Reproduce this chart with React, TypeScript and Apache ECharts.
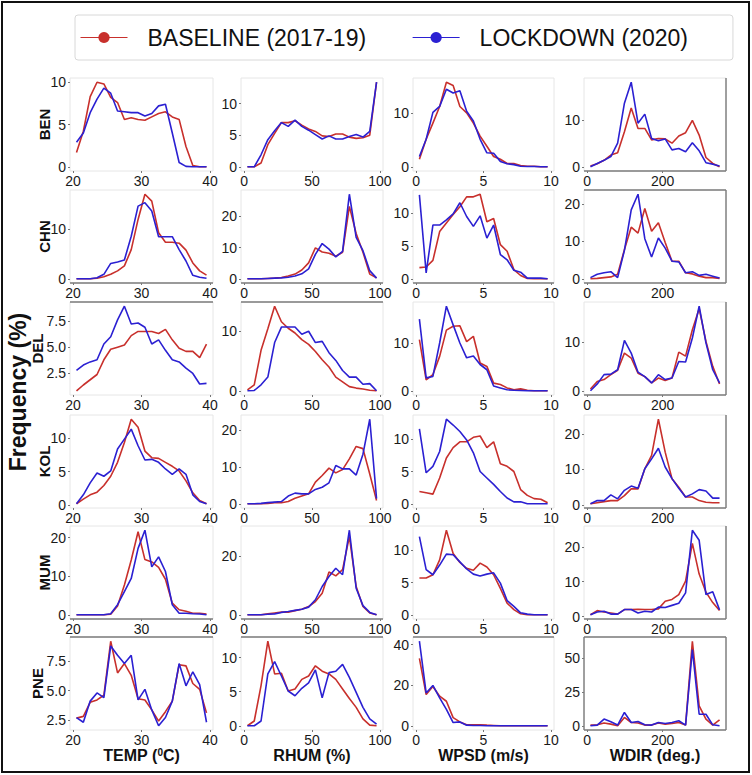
import React, { useEffect, useRef } from "react";
import * as echarts from "echarts";

// ---------- categories / names ----------
const CITIES = ["BEN", "CHN", "DEL", "KOL", "MUM", "PNE"];
const VARIABLE_NAMES = ["TEMP ({sup|0}C)", "RHUM (%)", "WPSD (m/s)", "WDIR (deg.)"];
const BASE_NAME = "BASELINE (2017-19)";
const LOCK_NAME = "LOCKDOWN (2020)";

// ---------- bin centres (x values) ----------
const TEMP_BINS = [20.5, 21.5, 22.5, 23.5, 24.5, 25.5, 26.5, 27.5, 28.5, 29.5, 30.5, 31.5, 32.5, 33.5, 34.5, 35.5, 36.5, 37.5, 38.5, 39.5];
const RHUM_BINS = [2.5, 7.5, 12.5, 17.5, 22.5, 27.5, 32.5, 37.5, 42.5, 47.5, 52.5, 57.5, 62.5, 67.5, 72.5, 77.5, 82.5, 87.5, 92.5, 97.5];
const WPSD_BINS = [0.25, 0.75, 1.25, 1.75, 2.25, 2.75, 3.25, 3.75, 4.25, 4.75, 5.25, 5.75, 6.25, 6.75, 7.25, 7.75, 8.25, 8.75, 9.25, 9.75];
const WDIR_BINS = [9, 27, 45, 63, 81, 99, 117, 135, 153, 171, 189, 207, 225, 243, 261, 279, 297, 315, 333, 351];

// ---------- tick labels ----------
const X_TICKS = [[20, 30, 40], [0, 50, 100], [0, 5, 10], [0, 200]];
const BEN_TICKS = [[0, 5, 10], [0, 5, 10], [0, 10], [0, 10]];
const CHN_TICKS = [[0, 10], [0, 10, 20], [0, 5, 10], [0, 10, 20]];
const DEL_TICKS = [[2.5, 5, 7.5], [0, 10], [0, 10], [0, 10]];
const KOL_TICKS = [[0, 5, 10], [0, 10, 20], [0, 5, 10], [0, 10, 20]];
const MUM_TICKS = [[0, 10, 20], [0, 20], [0, 5, 10], [0, 10, 20]];
const PNE_TICKS = [[2.5, 5, 7.5], [0, 5, 10], [0, 20, 40], [0, 25, 50]];

// ---------- frequencies (%) ----------
const BEN_TEMP_BASE = [1.7, 4.2, 8.3, 10.0, 9.8, 8.2, 7.6, 5.6, 5.8, 5.6, 5.5, 5.9, 6.3, 6.5, 5.9, 5.6, 2.4, 0.15, 0, 0];
const BEN_TEMP_LOCK = [2.9, 4.0, 6.4, 8.0, 9.3, 8.7, 6.6, 6.5, 6.4, 6.4, 6.0, 6.3, 7.2, 7.4, 4.0, 0.5, 0.05, 0, 0, 0];
const BEN_RHUM_BASE = [0, 0, 0.6, 3.5, 5.3, 7.0, 7.0, 7.3, 6.6, 6.0, 5.6, 4.9, 4.8, 5.2, 5.2, 4.7, 4.5, 4.6, 5.0, 13.4];
const BEN_RHUM_LOCK = [0, 0, 1.9, 4.3, 5.7, 7.0, 6.4, 7.4, 6.4, 5.8, 5.1, 4.4, 4.9, 4.4, 4.4, 4.8, 5.1, 4.7, 5.6, 13.4];
const BEN_WPSD_BASE = [1.4, 5.1, 8.1, 11.2, 15.7, 15.1, 11.2, 10.0, 8.1, 5.7, 3.8, 1.9, 1.4, 0.6, 0.6, 0.25, 0.1, 0.1, 0, 0];
const BEN_WPSD_LOCK = [1.9, 5.1, 10.1, 11.2, 14.4, 13.7, 14.1, 10.3, 8.5, 5.1, 2.6, 2.5, 1.0, 0.55, 0.4, 0.1, 0.05, 0.05, 0, 0];
const BEN_WDIR_BASE = [0.3, 0.8, 1.5, 2.6, 3.1, 7.5, 12.5, 8.2, 8.2, 5.8, 6.1, 6.0, 5.1, 6.6, 7.3, 9.9, 6.8, 2.1, 0.85, 0.15];
const BEN_WDIR_LOCK = [0.15, 0.85, 1.5, 2.3, 5.1, 13.5, 17.9, 9.3, 11.2, 6.1, 5.6, 6.0, 3.7, 4.0, 3.3, 5.2, 3.5, 1.0, 0.7, 0.3];

const CHN_TEMP_BASE = [0, 0, 0, 0.1, 0.4, 0.9, 1.6, 2.6, 5.9, 12.0, 17.1, 15.7, 9.3, 7.4, 7.4, 7.2, 5.8, 3.2, 1.6, 0.75];
const CHN_TEMP_LOCK = [0, 0, 0, 0.2, 0.9, 3.1, 3.4, 3.8, 8.6, 14.7, 15.4, 13.7, 8.5, 8.5, 8.5, 5.9, 3.6, 0.7, 0.3, 0.1];
const CHN_RHUM_BASE = [0, 0, 0, 0.1, 0.2, 0.4, 0.9, 1.5, 2.8, 5.1, 9.9, 8.6, 8.2, 7.2, 8.5, 23.2, 14.5, 8.5, 1.5, 0.3];
const CHN_RHUM_LOCK = [0, 0, 0, 0.1, 0.2, 0.3, 0.5, 0.9, 1.6, 3.2, 7.8, 11.3, 9.5, 7.0, 8.8, 27.1, 13.3, 9.0, 2.6, 0.2];
const CHN_WPSD_BASE = [1.7, 1.8, 2.8, 7.2, 8.5, 9.8, 11.0, 12.5, 12.5, 12.9, 8.7, 9.2, 5.2, 4.2, 1.4, 0.5, 0.05, 0, 0, 0];
const CHN_WPSD_LOCK = [12.8, 0.9, 8.2, 8.2, 9.0, 9.9, 11.6, 9.5, 8.0, 9.6, 6.2, 8.2, 3.7, 2.9, 1.3, 1.0, 0.1, 0.1, 0.1, 0];
const CHN_WDIR_BASE = [0, 0.1, 0.3, 0.5, 1.2, 7.8, 13.8, 12.2, 18.8, 12.7, 15.0, 9.7, 4.7, 4.7, 1.6, 1.3, 0.7, 0.3, 0.3, 0.1];
const CHN_WDIR_LOCK = [0.3, 1.2, 1.6, 1.9, 0.3, 7.6, 18.4, 22.6, 10.7, 5.8, 10.9, 8.2, 4.7, 4.5, 1.6, 1.9, 0.9, 1.2, 0.7, 0.2];

const DEL_TEMP_BASE = [0.85, 1.4, 1.9, 2.4, 3.8, 4.8, 5.0, 5.2, 6.1, 6.5, 6.5, 6.5, 6.3, 6.7, 5.7, 4.9, 4.6, 4.6, 4.0, 5.3];
const DEL_TEMP_LOCK = [2.8, 3.3, 3.6, 3.8, 5.3, 6.0, 7.6, 8.9, 7.2, 7.3, 6.9, 5.3, 5.7, 4.7, 3.8, 3.6, 3.0, 2.5, 1.5, 1.55];
const DEL_RHUM_BASE = [0.15, 1.0, 6.8, 10.4, 14.2, 11.6, 10.5, 9.7, 8.6, 7.8, 6.6, 5.2, 4.0, 2.3, 1.5, 0.7, 0.45, 0.3, 0.1, 0];
const DEL_RHUM_LOCK = [0, 0.05, 1.0, 2.3, 8.1, 10.7, 10.7, 10.7, 9.5, 10.0, 8.1, 8.3, 6.4, 5.1, 3.4, 2.3, 2.3, 1.1, 1.2, 0];
const DEL_WPSD_BASE = [10.7, 2.3, 3.4, 7.2, 12.7, 13.5, 13.6, 10.3, 11.4, 5.8, 5.1, 1.6, 1.3, 0.6, 0.2, 0.4, 0.1, 0, 0, 0];
const DEL_WPSD_LOCK = [15.0, 2.7, 3.0, 10.0, 17.7, 13.8, 10.0, 6.9, 7.3, 5.5, 4.4, 1.0, 0.6, 0.2, 0.1, 0.05, 0, 0, 0, 0];
const DEL_WDIR_BASE = [0.35, 1.9, 2.3, 3.3, 4.2, 7.7, 6.7, 3.6, 2.9, 1.6, 2.6, 2.1, 2.6, 7.9, 7.1, 12.5, 16.8, 10.1, 5.0, 1.4];
const DEL_WDIR_LOCK = [0, 1.4, 3.3, 3.4, 4.3, 10.3, 7.7, 3.8, 2.9, 1.6, 3.3, 2.3, 2.6, 6.0, 5.9, 10.8, 17.3, 9.8, 4.3, 1.6];

const KOL_TEMP_BASE = [0.15, 0.85, 1.5, 1.9, 2.9, 4.3, 6.4, 9.4, 12.9, 11.7, 8.1, 7.1, 7.0, 6.4, 5.8, 5.1, 3.6, 1.8, 0.65, 0.15];
const KOL_TEMP_LOCK = [0.15, 1.5, 3.3, 4.8, 4.3, 5.1, 8.4, 9.9, 11.4, 8.9, 6.75, 6.85, 6.4, 5.4, 4.6, 5.4, 4.6, 1.5, 0.5, 0.15];
const KOL_RHUM_BASE = [0, 0, 0, 0.1, 0.3, 0.3, 0.6, 1.5, 2.1, 2.7, 5.9, 7.7, 9.7, 8.4, 9.3, 12.2, 15.6, 15.0, 8.1, 0.9];
const KOL_RHUM_LOCK = [0, 0, 0.1, 0.3, 0.45, 0.6, 2.1, 2.9, 2.7, 2.7, 3.9, 4.5, 5.7, 10.4, 9.5, 9.5, 7.8, 13.5, 23.0, 1.4];
const KOL_WPSD_BASE = [1.9, 1.7, 1.5, 4.0, 7.1, 8.7, 9.6, 9.6, 10.3, 10.5, 8.7, 9.6, 6.2, 5.8, 5.0, 2.2, 1.3, 0.8, 0.7, 0.15];
const KOL_WPSD_LOCK = [11.6, 4.8, 5.8, 8.1, 13.1, 12.2, 11.2, 9.9, 7.9, 5.0, 4.0, 3.0, 1.9, 0.9, 0.3, 0.3, 0, 0, 0, 0];
const KOL_WDIR_BASE = [0.3, 0.6, 0.9, 1.2, 1.2, 2.6, 4.5, 4.5, 10.2, 14.0, 24.2, 14.9, 7.4, 5.0, 2.2, 2.2, 1.2, 0.75, 0.6, 0.6];
const KOL_WDIR_LOCK = [0.3, 1.2, 1.2, 2.8, 1.7, 4.1, 5.3, 4.7, 10.2, 13.0, 16.0, 10.7, 7.4, 4.7, 2.2, 3.1, 4.3, 3.9, 1.9, 1.9];

const MUM_TEMP_BASE = [0, 0, 0, 0, 0, 0.15, 2.3, 7.7, 14.2, 21.5, 14.3, 13.7, 12.3, 9.2, 3.0, 1.3, 0.9, 0.4, 0.4, 0.2];
const MUM_TEMP_LOCK = [0, 0, 0, 0, 0, 0.25, 2.6, 6.0, 9.4, 17.2, 21.9, 12.4, 15.0, 11.2, 2.6, 0.4, 0.4, 0.25, 0.2, 0];
const MUM_RHUM_BASE = [0, 0, 0, 0.3, 0.6, 0.9, 0.9, 1.4, 1.9, 2.8, 4.5, 7.3, 14.5, 13.2, 15.3, 26.5, 9.6, 2.8, 0.6, 0];
const MUM_RHUM_LOCK = [0, 0, 0, 0.2, 0.3, 0.8, 1.1, 1.5, 1.9, 2.6, 5.1, 9.6, 13.0, 15.8, 13.6, 28.7, 9.0, 3.1, 0.8, 0];
const MUM_WPSD_BASE = [5.7, 5.7, 6.2, 8.5, 13.1, 9.5, 8.1, 7.2, 6.9, 8.0, 7.4, 6.2, 4.1, 1.8, 0.8, 0.15, 0, 0, 0, 0];
const MUM_WPSD_LOCK = [12.1, 7.0, 6.2, 7.7, 9.4, 9.3, 8.2, 7.1, 6.3, 6.0, 6.3, 6.5, 4.9, 2.2, 1.3, 0.3, 0.1, 0, 0, 0];
const MUM_WDIR_BASE = [0.5, 1.7, 1.3, 1.0, 0.7, 2.0, 2.0, 2.1, 2.0, 2.0, 2.2, 4.4, 4.9, 6.3, 10.2, 21.0, 12.2, 7.0, 4.0, 1.7];
const MUM_WDIR_LOCK = [0.5, 1.3, 1.5, 0.7, 0.7, 2.0, 2.0, 1.0, 1.5, 1.3, 2.7, 2.6, 3.2, 3.8, 6.8, 24.8, 21.9, 6.3, 7.1, 1.9];

const PNE_TEMP_BASE = [2.65, 2.8, 4.0, 4.2, 4.6, 9.2, 6.5, 7.3, 6.3, 4.3, 4.2, 3.35, 2.4, 3.2, 4.1, 7.2, 7.1, 5.6, 5.1, 3.1];
const PNE_TEMP_LOCK = [2.7, 2.3, 4.1, 4.8, 4.4, 8.8, 8.0, 7.3, 8.0, 4.2, 5.1, 3.35, 2.0, 2.7, 4.1, 7.3, 5.4, 6.6, 5.5, 2.3];
const PNE_RHUM_BASE = [0, 0.7, 5.9, 12.4, 7.6, 7.7, 5.1, 5.4, 6.8, 7.3, 8.8, 8.0, 7.6, 6.8, 5.4, 4.0, 2.7, 1.0, 0.1, 0];
const PNE_RHUM_LOCK = [0, 0, 0.7, 7.6, 9.4, 7.3, 5.1, 4.4, 5.5, 6.3, 8.2, 4.1, 7.8, 8.0, 9.0, 7.1, 4.9, 2.7, 1.0, 0.25];
const PNE_WPSD_BASE = [33.2, 15.4, 19.4, 14.6, 12.1, 4.0, 1.9, 0.5, 0.5, 0.5, 0.3, 0.15, 0, 0, 0, 0, 0, 0, 0, 0];
const PNE_WPSD_LOCK = [41.7, 16.2, 19.9, 13.8, 8.1, 1.6, 1.9, 0.3, 0.1, 0.1, 0, 0, 0, 0, 0, 0, 0, 0, 0, 0];
const PNE_WDIR_BASE = [0.5, 0.7, 2.0, 1.2, 0, 6.1, 2.4, 2.0, 0.5, 0.5, 2.0, 1.2, 1.7, 2.4, 0.5, 62.2, 14.6, 4.9, 0.5, 4.4];
const PNE_WDIR_LOCK = [0, 0.5, 4.9, 2.9, 0.5, 9.8, 2.4, 3.2, 0.7, 0.5, 2.4, 1.7, 2.4, 3.7, 0.5, 56.1, 8.5, 8.5, 0.7, 0];

// ---------- assembled tables ----------
const BINS = [TEMP_BINS, RHUM_BINS, WPSD_BINS, WDIR_BINS];
const Y_TICKS = [BEN_TICKS, CHN_TICKS, DEL_TICKS, KOL_TICKS, MUM_TICKS, PNE_TICKS];
const BASELINE = [
  [BEN_TEMP_BASE, BEN_RHUM_BASE, BEN_WPSD_BASE, BEN_WDIR_BASE],
  [CHN_TEMP_BASE, CHN_RHUM_BASE, CHN_WPSD_BASE, CHN_WDIR_BASE],
  [DEL_TEMP_BASE, DEL_RHUM_BASE, DEL_WPSD_BASE, DEL_WDIR_BASE],
  [KOL_TEMP_BASE, KOL_RHUM_BASE, KOL_WPSD_BASE, KOL_WDIR_BASE],
  [MUM_TEMP_BASE, MUM_RHUM_BASE, MUM_WPSD_BASE, MUM_WDIR_BASE],
  [PNE_TEMP_BASE, PNE_RHUM_BASE, PNE_WPSD_BASE, PNE_WDIR_BASE],
];
const LOCKDOWN = [
  [BEN_TEMP_LOCK, BEN_RHUM_LOCK, BEN_WPSD_LOCK, BEN_WDIR_LOCK],
  [CHN_TEMP_LOCK, CHN_RHUM_LOCK, CHN_WPSD_LOCK, CHN_WDIR_LOCK],
  [DEL_TEMP_LOCK, DEL_RHUM_LOCK, DEL_WPSD_LOCK, DEL_WDIR_LOCK],
  [KOL_TEMP_LOCK, KOL_RHUM_LOCK, KOL_WPSD_LOCK, KOL_WDIR_LOCK],
  [MUM_TEMP_LOCK, MUM_RHUM_LOCK, MUM_WPSD_LOCK, MUM_WDIR_LOCK],
  [PNE_TEMP_LOCK, PNE_RHUM_LOCK, PNE_WPSD_LOCK, PNE_WDIR_LOCK],
];

// ---------- layout & style ----------
const FONT = "'Liberation Sans', Arial, Helvetica, sans-serif";
const RED = "#c8302c";
const BLUE = "#2b20d2";
const LIGHT_BORDER = "#e6e6e6";
const DARK_BORDER = "#7c7c7c";
const COL_LEFT = [70, 241, 413, 584];
const COL_WIDTH = [143, 142, 141, 142];
const ROW_TOP = [78, 190, 302, 415, 526, 637];
const ROW_HEIGHT = 93;
// [row, col, side]
const DARK_EDGES: [number, number, string][] = [
  [0, 3, "r"], [0, 3, "b"],
  [1, 0, "b"], [1, 1, "b"], [1, 2, "b"], [1, 3, "r"], [1, 3, "b"], [1, 3, "t"],
  [2, 0, "t"], [2, 1, "t"], [2, 3, "r"], [2, 3, "b"],
  [3, 3, "r"], [3, 3, "b"],
  [4, 0, "b"], [4, 1, "b"], [4, 3, "r"], [4, 3, "b"],
  [5, 0, "t"], [5, 1, "t"], [5, 2, "t"], [5, 3, "t"], [5, 3, "r"], [5, 3, "b"], [5, 3, "l"],
];

function edgeLine(r: number, c: number, side: string) {
  const x0 = COL_LEFT[c], x1 = COL_LEFT[c] + COL_WIDTH[c];
  const y0 = ROW_TOP[r], y1 = ROW_TOP[r] + ROW_HEIGHT;
  let shape;
  if (side === "t") shape = { x1: x0, y1: y0, x2: x1, y2: y0 };
  else if (side === "b") shape = { x1: x0, y1: y1, x2: x1, y2: y1 };
  else if (side === "l") shape = { x1: x0, y1: y0, x2: x0, y2: y1 };
  else shape = { x1: x1, y1: y0, x2: x1, y2: y1 };
  return { type: "line", shape, style: { stroke: DARK_BORDER, lineWidth: 1.4 }, silent: true, z: 50 };
}

function buildOption() {
  const grid: any[] = [];
  const xAxis: any[] = [];
  const yAxis: any[] = [];
  const series: any[] = [];

  CITIES.forEach((city, r) => {
    for (let c = 0; c < 4; c++) {
      const idx = r * 4 + c;
      const bins = BINS[c];
      const base = BASELINE[r][c];
      const lock = LOCKDOWN[r][c];
      const all = base.concat(lock);
      const lo = Math.min(...all);
      const hi = Math.max(...all);
      const pad = (hi - lo) * 0.05;
      const xlo = bins[0];
      const xhi = bins[bins.length - 1];
      const xpad = (xhi - xlo) * 0.05;
      const yt = Y_TICKS[r][c];
      const decimals = yt.some((v) => v % 1 !== 0);

      grid.push({
        left: COL_LEFT[c],
        top: ROW_TOP[r],
        width: COL_WIDTH[c],
        height: ROW_HEIGHT,
        show: true,
        borderColor: LIGHT_BORDER,
        borderWidth: 1,
        backgroundColor: "transparent",
      });

      xAxis.push({
        type: "value",
        gridIndex: idx,
        min: xlo - xpad,
        max: xhi + xpad,
        axisLine: { show: false, onZero: false },
        splitLine: { show: false },
        axisTick: { show: true, length: 2, lineStyle: { color: "#777" }, customValues: X_TICKS[c] },
        axisLabel: {
          customValues: X_TICKS[c],
          margin: 3,
          fontSize: 14,
          lineHeight: 14,
          color: "#1a1a1a",
          fontFamily: FONT,
          formatter: (v: number) => String(v),
        },
        name: r === 5 ? VARIABLE_NAMES[c] : "",
        nameLocation: "middle",
        nameGap: 17,
        nameMoveOverlap: false,
        nameTextStyle: {
          fontSize: 16,
          fontWeight: "bold",
          color: "#111",
          fontFamily: FONT,
          lineHeight: 16,
          rich: {
            sup: { fontSize: 10, fontWeight: "bold", color: "#111", fontFamily: FONT, lineHeight: 10, verticalAlign: "top" },
          },
        },
      });

      yAxis.push({
        type: "value",
        gridIndex: idx,
        min: lo - pad,
        max: hi + pad,
        axisLine: { show: false, onZero: false },
        splitLine: { show: false },
        axisTick: { show: true, length: 2, lineStyle: { color: "#777" }, customValues: yt },
        axisLabel: {
          customValues: yt,
          margin: 4,
          fontSize: 14,
          color: "#1a1a1a",
          fontFamily: FONT,
          formatter: (v: number) => (decimals ? v.toFixed(1) : String(v)),
        },
        name: c === 0 ? city : "",
        nameLocation: "middle",
        nameRotate: 90,
        nameGap: decimals ? 25 : 18,
        nameMoveOverlap: false,
        nameTextStyle: { fontSize: 15, fontWeight: "bold", color: "#111", fontFamily: FONT },
      });

      series.push({
        type: "line",
        name: BASE_NAME,
        xAxisIndex: idx,
        yAxisIndex: idx,
        data: bins.map((x, i) => [x, base[i]]),
        symbol: "circle",
        showSymbol: false,
        symbolSize: 10,
        lineStyle: { color: RED, width: 1.6 },
        itemStyle: { color: RED },
        silent: true,
        z: 2,
      });
      series.push({
        type: "line",
        name: LOCK_NAME,
        xAxisIndex: idx,
        yAxisIndex: idx,
        data: bins.map((x, i) => [x, lock[i]]),
        symbol: "circle",
        showSymbol: false,
        symbolSize: 10,
        lineStyle: { color: BLUE, width: 1.6 },
        itemStyle: { color: BLUE },
        silent: true,
        z: 3,
      });
    }
  });

  return {
    animation: false,
    backgroundColor: "#ffffff",
    legend: {
      data: [BASE_NAME, LOCK_NAME],
      left: 75,
      top: 15,
      padding: [11, 45, 11, 5],
      itemWidth: 47,
      itemHeight: 14,
      itemGap: 46,
      borderColor: "#d8d8d8",
      borderWidth: 1,
      borderRadius: 3,
      lineStyle: { width: 1 },
      selectedMode: false,
      textStyle: { fontSize: 23, color: "#111", fontFamily: FONT, padding: [0, 0, 0, 15] },
    },
    grid,
    xAxis,
    yAxis,
    series,
    graphic: [
      {
        type: "rect",
        shape: { x: 2, y: 2, width: 747, height: 770 },
        style: { fill: "none", stroke: "#111", lineWidth: 2 },
        silent: true,
        z: 60,
      },
      {
        type: "text",
        x: 18,
        y: 392,
        rotation: Math.PI / 2,
        style: {
          text: "Frequency (%)",
          fontSize: 23,
          fontWeight: "bold",
          fontFamily: FONT,
          fill: "#111",
          textAlign: "center",
          textVerticalAlign: "middle",
        },
        silent: true,
        z: 60,
      },
      ...DARK_EDGES.map(([r, c, s]) => edgeLine(r, c, s)),
    ],
  };
}

export default function App() {
  const ref = useRef<HTMLDivElement>(null);
  useEffect(() => {
    document.body.style.margin = "0";
    const chart = echarts.init(ref.current as HTMLDivElement, null, { renderer: "svg" });
    chart.setOption(buildOption() as any);
    return () => chart.dispose();
  }, []);
  return <div ref={ref} style={{ width: 752, height: 775, background: "#fff" }} />;
}
